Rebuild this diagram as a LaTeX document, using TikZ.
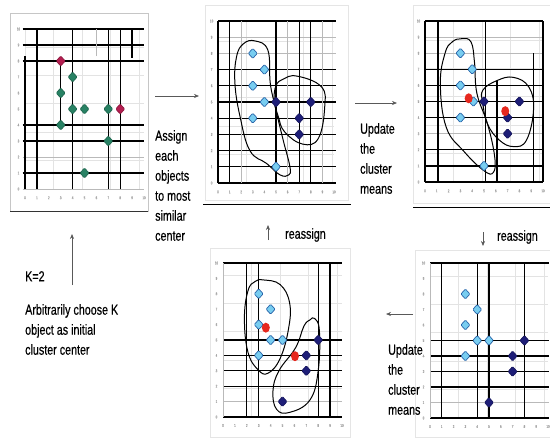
\documentclass[tikz,border=0pt]{standalone}
\usepackage{fontspec}
\setmainfont{Liberation Sans}[FakeStretch=0.74,FakeBold=0.4]
\usetikzlibrary{arrows.meta}
\definecolor{lblue}{RGB}{120,205,240}
\definecolor{lblueedge}{RGB}{40,100,170}
\definecolor{dblue}{RGB}{30,30,120}
\definecolor{grn}{RGB}{40,130,100}
\definecolor{mag}{RGB}{180,30,80}
\definecolor{redc}{RGB}{230,40,30}
\tikzset{
 gl/.style={gray!22, line width=0.4pt},
 gm/.style={gray!55, line width=1pt},
 gd/.style={black, line width=1.3pt},
 blob/.style={black, line width=1pt},
 tick/.style={font=\fontsize{4}{4}\selectfont, text=gray!70, inner sep=0pt},
 lab/.style={font=\fontsize{14.5}{20}\selectfont, align=left, anchor=north west, inner sep=0pt},
 arr/.style={gray!70!black, line width=0.6pt, -{Stealth[length=5pt,width=4pt]}},
 frame/.style={gray!20, line width=0.6pt},
 ptL/.style={fill=lblue, draw=lblueedge, line width=0.7pt},
 ptD/.style={fill=dblue, draw=dblue!80!black, line width=0.7pt},
 ptG/.style={fill=grn, draw=grn!80!black, line width=0.7pt},
 ptM/.style={fill=mag, draw=mag!80!black, line width=0.7pt},
}
\newcommand\mk[3]{\filldraw[#1, rounded corners=1pt] (#2,#3) +(0pt,5pt) -- +(4.5pt,0pt) -- +(0pt,-5pt) -- +(-4.5pt,0pt) -- cycle;}
\newcommand\ctr[2]{\fill[redc] (#1,#2) ellipse[x radius=4pt, y radius=5pt];}
\newcommand\ticks[1]{\foreach \i in {0,...,10} {\node[tick] (#1x\i) at (\i,-0.55) {\i}; \node[tick] (#1y\i) at (-0.55,\i) {\i};}}
\begin{document}
\begin{tikzpicture}[x=1pt,y=-1pt]
\useasboundingbox (0,0) rectangle (550,440);
\fill[white] (0,0) rectangle (550,440);

% ---------- panel 1 ----------
\draw[gray!45, line width=0.6pt] (10,13) rectangle (148,211);
\draw[black!80, line width=0.9pt] (10,211) -- (148,211);
\begin{scope}[shift={(25pt,-189pt)}, x=11.9pt, y=16pt]
 \draw[gl] (0,0) grid (10,10);
 \foreach \y in {10,9,8,4,3,1} \draw[gd] (-0.2,\y) -- (10,\y);
 \draw[gm] (-0.2,2) -- (10,2);
 \draw[gm] (-0.2,0) -- (10,0);
 \draw[gd] (0,0) -- (0,8.3);
 \draw[gd] (1,0) -- (1,10);
 \draw[gd] (3,4) -- (3,8);
 \draw[gd] (4,0) -- (4,10);
 \draw[gm] (6,8.3) -- (6,10);
 \draw[gd] (7,0) -- (7,10);
 \draw[gd] (8,0) -- (8,10);
 \draw[gd] (9,8.2) -- (9,10);
 \ticks{a}
 \mk{ptG}{3}{6} \mk{ptG}{3}{4} \mk{ptG}{4}{7} \mk{ptG}{4}{5}
 \mk{ptG}{5}{5} \mk{ptG}{7}{5} \mk{ptG}{7}{3} \mk{ptG}{5}{1}
 \mk{ptM}{3}{8} \mk{ptM}{8}{5}
\end{scope}

% ---------- panel 2 ----------
\draw[frame] (205,5) rectangle (348,200);
\draw[black, line width=0.9pt] (203,204) -- (351,204);
\begin{scope}[shift={(218pt,-183pt)}, x=11.6pt, y=16.2pt]
 \draw[gl] (0,0) grid (10,10);
 \foreach \y in {10,7,6,5,4,3,2,1,0} \draw[gd] (0,\y) -- (10.2,\y);
 \foreach \y in {9,8} \draw[gm] (0,\y) -- (10.2,\y);
 \foreach \x in {0,1,5,7,8} \draw[gd] (\x,0) -- (\x,10);
 \foreach \x in {2,6,9} \draw[gm] (\x,0) -- (\x,10);
 \ticks{b}
 \draw[blob] plot[smooth cycle, tension=0.7] coordinates {(3.2,8.77) (4.3,8.2) (4.5,6.2) (4.9,4.8) (5.6,2.7) (6.2,1.0) (6.1,0.5) (5.35,0.5) (4.2,1.2) (2.75,2.0) (1.9,4.1) (1.46,6.15) (1.6,7.8) (2.2,8.6)};
 \draw[blob] plot[smooth cycle, tension=0.7] coordinates {(5.6,6.4) (6.8,6.6) (8.9,5.95) (9.2,4.7) (8.65,2.75) (7.3,2.4) (5.75,3.15) (5.2,4.1) (4.85,5.1) (5.0,6.0)};
 \mk{ptL}{3}{8} \mk{ptL}{4}{7} \mk{ptL}{3}{6} \mk{ptL}{4}{5} \mk{ptL}{3}{4} \mk{ptL}{5}{1}
 \mk{ptD}{5}{5} \mk{ptD}{7}{4} \mk{ptD}{7}{3} \mk{ptD}{8}{5}
\end{scope}

% ---------- panel 3 ----------
\draw[frame] (413,5) rectangle (550,203);
\draw[black, line width=0.9pt] (413,207) -- (550,207);
\begin{scope}[shift={(425pt,-182pt)}, x=11.8pt, y=16.1pt]
 \draw[gl] (0,0) grid (10,10);
 \foreach \y in {10,7,6,5,4,2,1,0} \draw[gd] (0,\y) -- (10,\y);
 \foreach \y in {9,8,3} \draw[gm] (0,\y) -- (10,\y);
 \draw[gd] (0,0) -- (0,10);
 \draw[gd] (1.1,0) -- (1.1,10);
 \draw[gd] (5.1,0) -- (5.1,10);
 \draw[gd] (6.1,0) -- (6.1,6.3);
 \draw[gd] (9.2,0) -- (9.2,8);
 \draw[gd] (10,0) -- (10,10);
 \ticks{c}
 \draw[blob] plot[smooth cycle, tension=0.7] coordinates {(3.1,8.9) (3.9,8.7) (4.2,7.4) (4.4,5.5) (5.3,3.6) (5.9,1.6) (5.8,0.6) (5.0,0.7) (3.3,1.9) (1.8,3.4) (1.3,6.1) (1.7,8.0) (2.3,8.7)};
 \draw[blob] plot[smooth cycle, tension=0.7] coordinates {(6.1,6.3) (7.5,6.5) (8.8,5.9) (9.2,4.5) (8.6,2.6) (7.5,2.2) (6.3,2.6) (5.3,3.6) (4.9,4.9) (4.9,5.7)};
 \mk{ptL}{3}{8} \mk{ptL}{4}{7} \mk{ptL}{3}{6} \mk{ptL}{4.1}{5} \mk{ptL}{3}{4} \mk{ptL}{5}{1}
 \mk{ptD}{5}{5} \mk{ptD}{7}{4} \mk{ptD}{7}{3} \mk{ptD}{8}{5}
 \ctr{3.7}{5.2} \ctr{6.8}{4.4}
\end{scope}

% ---------- panel 4 ----------
\draw[frame] (415,250) rectangle (550,437);
\begin{scope}[shift={(430pt,-418pt)}, x=11.8pt, y=15.5pt]
 \draw[gl] (0,0) grid (10,10);
 \foreach \y in {10,5,4,3,2,0} \draw[gd] (0,\y) -- (10.1,\y);
 \draw[gm] (0,1) -- (10.1,1);
 \foreach \x in {1,4,5,8} \draw[gd] (\x,0) -- (\x,10);
 \draw[gm] (0,0) -- (0,10);
 \ticks{d}
 \mk{ptL}{3}{8} \mk{ptL}{4}{7} \mk{ptL}{3}{6} \mk{ptL}{4}{5} \mk{ptL}{5}{5} \mk{ptL}{3}{4}
 \mk{ptD}{8}{5} \mk{ptD}{7}{4} \mk{ptD}{7}{3} \mk{ptD}{5}{1}
\end{scope}

% ---------- panel 5 ----------
\draw[frame] (210,248) rectangle (350,437);
\begin{scope}[shift={(223pt,-417pt)}, x=11.9pt, y=15.4pt]
 \draw[gl] (0,0) grid (10,10);
 \foreach \y in {10,5,4,3,2,0} \draw[gd] (0,\y) -- (10,\y);
 \draw[gm] (0,1) -- (10,1);
 \foreach \x in {2,3,8,9} \draw[gd] (\x,0) -- (\x,10);
 \draw[gm] (0,0) -- (0,10);
 \ticks{e}
 \draw[blob] plot[smooth cycle, tension=0.7] coordinates {(3.4,8.9) (4.8,8.6) (5.6,7.4) (5.5,5.7) (4.8,3.8) (3.8,2.85) (2.97,3.05) (2.1,4.2) (1.8,6.4) (2.1,8.2) (2.7,8.8)};
 \draw[blob] plot[smooth cycle, tension=0.7] coordinates {(7.7,6.4) (8.1,5.6) (8.0,3.0) (7.3,1.1) (5.6,0.3) (4.5,0.5) (4.2,1.7) (4.7,3.0) (6.1,4.5) (6.8,5.9) (7.3,6.3)};
 \mk{ptL}{3}{8} \mk{ptL}{4}{7} \mk{ptL}{3}{6} \mk{ptL}{4}{5} \mk{ptL}{5}{5} \mk{ptL}{3}{4}
 \mk{ptD}{7}{4} \mk{ptD}{7}{3} \mk{ptD}{8}{5} \mk{ptD}{5}{1}
 \ctr{3.6}{5.8} \ctr{6.05}{3.95}
\end{scope}

% ---------- arrows ----------
\coordinate (a1s) at (155,96);  \coordinate (a1e) at (199,96);
\coordinate (a2s) at (355,103); \coordinate (a2e) at (397,103);
\coordinate (a3s) at (483,232); \coordinate (a3e) at (483,246);
\coordinate (a4s) at (413,314); \coordinate (a4e) at (386,314);
\coordinate (a5s) at (268,240); \coordinate (a5e) at (268,225);
\coordinate (a6s) at (72,285);  \coordinate (a6e) at (72,234);
\draw[arr] (a1s) -- (a1e);
\draw[arr] (a2s) -- (a2e);
\draw[arr] (a3s) -- (a3e);
\draw[arr] (a4s) -- (a4e);
\draw[arr] (a5s) -- (a5e);
\draw[arr] (a6s) -- (a6e);

% ---------- labels ----------
\node[lab] (assign) at (155,130) {Assign\\each\\objects\\to most\\similar\\center};
\node[lab] (upd1) at (360,123) {Update\\the\\cluster\\means};
\node[lab] (upd2) at (388,344) {Update\\the\\cluster\\means};
\node[lab, anchor=west] (re1) at (285,235) {reassign};
\node[lab, anchor=west] (re2) at (497,237) {reassign};
\node[lab] (k2) at (25,271) {K=2};
\node[lab] (arb) at (25,304) {Arbitrarily choose K\\object as initial\\cluster center};
\end{tikzpicture}
\end{document}
